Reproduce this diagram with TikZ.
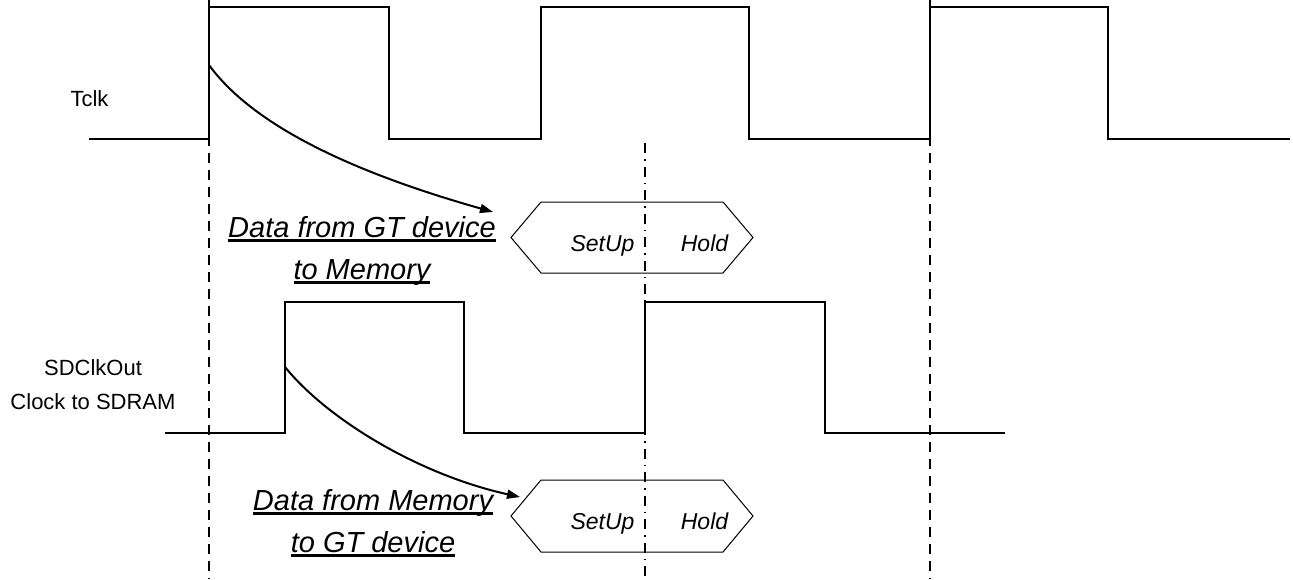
\documentclass[tikz,border=0pt]{standalone}
\usepackage{fontspec}
\setmainfont{Liberation Sans}
\usetikzlibrary{arrows.meta}
\newcommand\myul[1]{\leavevmode\setbox0=\hbox{#1}\rlap{\copy0}\rule[-4.5pt]{\wd0}{2.6pt}}
\begin{document}
\begin{tikzpicture}[x=1pt,y=-1pt,
 wave/.style={line width=1.4pt},
 guide/.style={line width=1.2pt, dash pattern=on 10pt off 7pt},
 guidedot/.style={line width=1.1pt, dash pattern=on 10pt off 6pt on 1.5pt off 6pt},
 delay/.style={line width=2pt, -{Triangle[length=13pt,width=9pt]}},
 window/.style={line width=1pt, line join=miter},
 lbl/.style={font=\fontsize{22}{34}\selectfont, align=center, inner sep=0pt},
 note/.style={font=\fontsize{29}{42}\selectfont\itshape, align=center, inner sep=0pt},
 phase/.style={font=\fontsize{23}{28}\selectfont\itshape, inner sep=0pt, anchor=base}]
\useasboundingbox (0,0) rectangle (1293,579);
% guides
\draw[guide] (209,0) -- (209,579);
\draw[guide] (930,0) -- (930,579);
\draw[guidedot] (645,143) -- (645,579);
% Tclk
\draw[wave] (89,139) -- (209,139) -- (209,7) -- (389,7) -- (389,139) -- (541,139) -- (541,7) -- (749,7) -- (749,139) -- (930,139) -- (930,7) -- (1108,7) -- (1108,139) -- (1290,139);
% SDClkOut
\draw[wave] (165,433) -- (285,433) -- (285,302) -- (464,302) -- (464,433) -- (645,433) -- (645,302) -- (825,302) -- (825,433) -- (1005,433);
% labels
\node[lbl] (tclk) at (89.5,99) {Tclk};
\node[lbl] (sdclk) at (93,385) {SDClkOut\\Clock to SDRAM};
% windows
\draw[window] (511,237.5) -- (541,202) -- (723,202) -- (753,237.5) -- (723,273) -- (541,273) -- cycle;
\draw[window] (511,516) -- (541,480) -- (723,480) -- (753,516) -- (723,552) -- (541,552) -- cycle;
\node[phase] (su1) at (602.5,251) {SetUp};
\node[phase] (ho1) at (704.5,251) {Hold};
\node[phase] (su2) at (602.5,529) {SetUp};
\node[phase] (ho2) at (704.5,529) {Hold};
% notes
\node[note] (n1) at (362,250.5) {\myul{Data from GT device}\\\myul{to Memory}};
\node[note] (n2) at (373,522.8) {\myul{Data from Memory}\\\myul{to GT device}};
% delay arrows
\coordinate (s1) at (209,65);
\coordinate (e1) at (493,212);
\coordinate (s2) at (285,367);
\coordinate (e2) at (520,497);
\draw[delay] (s1) .. controls (260,135) and (380,180) .. (e1);
\draw[delay] (s2) .. controls (328,420) and (420,475) .. (e2);
\end{tikzpicture}
\end{document}
